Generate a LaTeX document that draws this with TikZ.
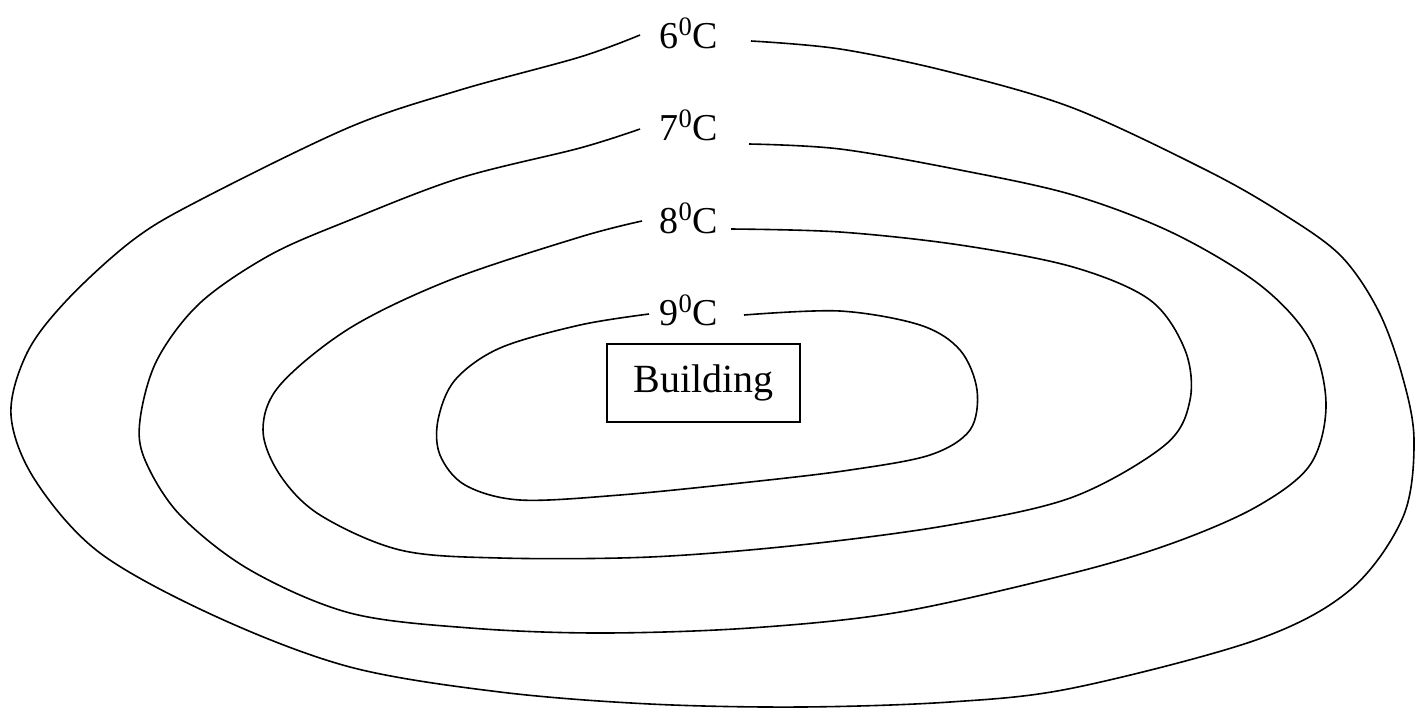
\documentclass[tikz,border=0pt]{standalone}
\usepackage{fontspec}
\setmainfont{Liberation Serif}
\begin{document}
\begin{tikzpicture}[x=0.5pt,y=-0.5pt,
  iso/.style={draw=black,line width=0.8pt,smooth,tension=0.55},
  lbl/.style={font=\fontsize{19}{22}\selectfont,inner sep=0pt,anchor=base},
  bld/.style={draw=black,line width=0.8pt,font=\fontsize{20}{24}\selectfont,minimum width=96.5pt,minimum height=39pt,inner sep=0pt}]
\useasboundingbox (0,0) rectangle (1423,708);
% labels
\node[lbl] (t6) at (689,48) {6\textsuperscript{0}C};
\node[lbl] (t7) at (689,140) {7\textsuperscript{0}C};
\node[lbl] (t8) at (689,233) {8\textsuperscript{0}C};
\node[lbl] (t9) at (689,325) {9\textsuperscript{0}C};
\node[bld] (b) at (703.5,383) {Building};
% 6 C isotherm
\draw[iso] plot coordinates {(751,41) (840,49) (950,72) (1073,108) (1206,170) (1280,212) (1340,255) (1378,310) (1402,375) (1414,440) (1403,517) (1350,590) (1256,640) (1073,688) (950,702) (800,707) (650,704) (500,692) (350,667) (217,617) (100,553) (35,480) (11,415) (27,353) (67,300) (133,240) (200,200) (350,127) (460,90) (580,57) (640,35)};
% 7 C isotherm
\draw[iso] plot coordinates {(749,144) (840,149) (960,170) (1073,195) (1173,233) (1260,285) (1310,340) (1326,405) (1310,465) (1256,507) (1173,543) (1073,573) (900,612) (750,628) (600,633) (470,628) (350,613) (250,570) (180,515) (145,460) (140,420) (157,360) (200,303) (270,255) (350,220) (460,178) (580,148) (640,129)};
% 8 C isotherm
\draw[iso] plot coordinates {(731,229) (840,232) (960,245) (1073,267) (1150,300) (1185,350) (1190,400) (1165,445) (1073,497) (950,525) (800,545) (650,557) (500,558) (400,550) (320,515) (280,475) (263,430) (280,385) (350,328) (450,280) (580,237) (642,221)};
% 9 C isotherm
\draw[iso] plot coordinates {(744,315) (840,311) (920,325) (960,350) (977,390) (970,430) (930,455) (850,470) (750,482) (620,495) (520,500) (465,485) (440,455) (438,420) (455,380) (500,348) (580,325) (649,314)};
\end{tikzpicture}
\end{document}
